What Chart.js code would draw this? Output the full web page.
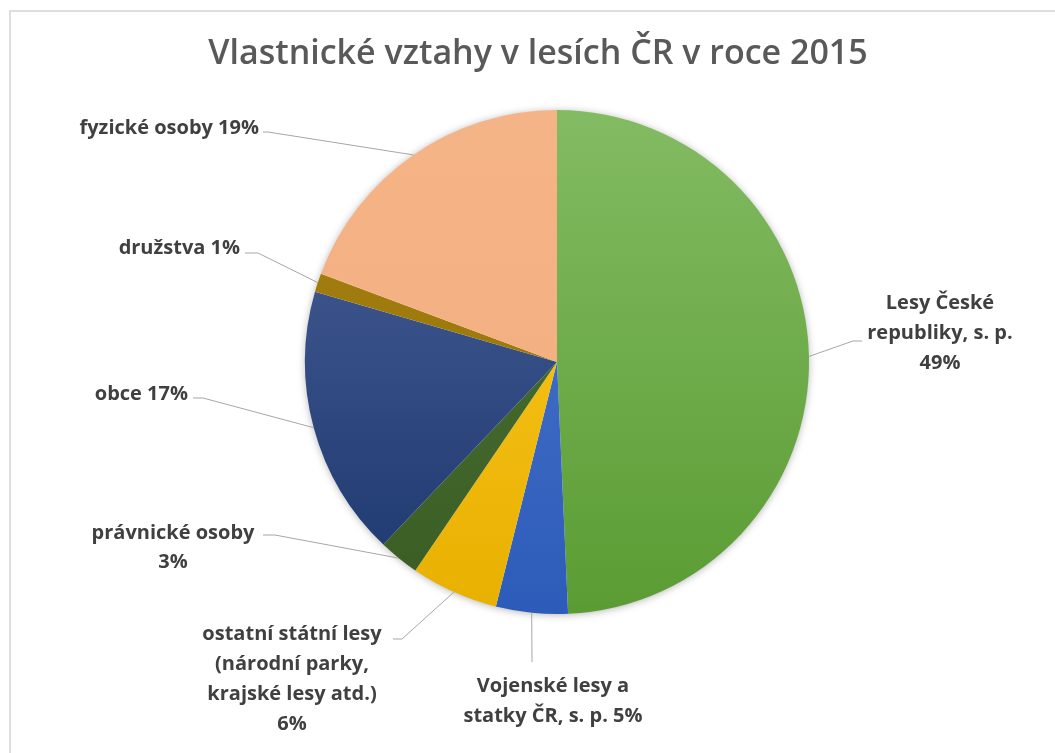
<!DOCTYPE html>
<html><head><meta charset="utf-8">
<script src="https://cdn.jsdelivr.net/npm/chart.js@4.4.1/dist/chart.umd.min.js"></script>
<style>
html,body{margin:0;padding:0;background:#fff;}
#wrap{position:relative;width:1055px;height:753px;overflow:hidden;}
#frame{position:absolute;left:9px;top:10px;right:-10px;bottom:-10px;border-left:2px solid #dedede;border-top:2px solid #dedede;}
canvas{position:absolute;left:0;top:0;}
</style></head><body>
<div id="wrap"><div id="frame"></div><canvas id="c" width="1055" height="753"></canvas></div>
<script>
const chartTitle = 'Vlastnické vztahy v lesích ČR v roce 2015';
const categories = [
  'Lesy České republiky, s. p.',
  'Vojenské lesy a statky ČR, s. p.',
  'ostatní státní lesy (národní parky, krajské lesy atd.)',
  'právnické osoby',
  'obce',
  'družstva',
  'fyzické osoby'
];
const shares = [49.3, 4.6, 5.6, 2.6, 17.4, 1.2, 19.3];
const labelLines = [
  ['Lesy České', 'republiky, s. p.', '{p}'],
  ['Vojenské lesy a', 'statky ČR, s. p. {p}'],
  ['ostatní státní lesy', '(národní parky,', 'krajské lesy atd.)', '{p}'],
  ['právnické osoby', '{p}'],
  ['obce {p}'],
  ['družstva {p}'],
  ['fyzické osoby {p}']
];

// styles (gradient top -> bottom)
const sliceGradients = [
  ['#83bb62', '#5a9c33'],
  ['#4b7acd', '#2d5bb9'],
  ['#ffca26', '#e8b000'],
  ['#4d7534', '#3a5c24'],
  ['#4c6299', '#1b376e'],
  ['#a7820f', '#93700a'],
  ['#f5b487', '#f2ac7c']
];
const labelLayout = [
  {path: [[853,341],[862,341]], x: 940, y: 303, align: 'center', lh: 30},
  {path: [[532,662]], x: 553, y: 686, align: 'center', lh: 30},
  {path: [[402,639],[393,639]], x: 292, y: 634, align: 'center', lh: 30},
  {path: [[275,535],[263,535]], x: 173, y: 533, align: 'center', lh: 29},
  {path: [[203,398],[193,398]], x: 188, y: 394, align: 'right', lh: 30},
  {path: [[258,253],[245,253]], x: 240, y: 248, align: 'right', lh: 30},
  {path: [[268,132],[263,132]], x: 259, y: 128, align: 'right', lh: 30}
];

const total = shares.reduce((a, b) => a + b, 0);

const shadowPlugin = {
  id: 'pieShadow',
  beforeDatasetsDraw(chart) {
    const el = chart.getDatasetMeta(0).data[0];
    if (!el) return;
    const p = el.getProps(['x', 'y', 'outerRadius'], true);
    const ctx = chart.ctx;
    ctx.save();
    ctx.shadowColor = 'rgba(0,0,0,0.35)';
    ctx.shadowBlur = 9;
    ctx.shadowOffsetY = 1;
    ctx.beginPath();
    ctx.arc(p.x, p.y, p.outerRadius - 1, 0, Math.PI * 2);
    ctx.fillStyle = '#ffffff';
    ctx.fill();
    ctx.restore();
  }
};

const titlePlugin = {
  id: 'customTitle',
  afterDraw(chart) {
    const ctx = chart.ctx;
    ctx.save();
    ctx.font = '600 34px "Open Sans"';
    ctx.fillStyle = '#595959';
    ctx.textAlign = 'center';
    ctx.textBaseline = 'middle';
    ctx.fillText(chartTitle, 538, 54);
    ctx.restore();
  }
};

const labelPlugin = {
  id: 'outLabels',
  afterDatasetsDraw(chart) {
    const ctx = chart.ctx;
    const meta = chart.getDatasetMeta(0);
    meta.data.forEach((el, i) => {
      const p = el.getProps(['x', 'y', 'startAngle', 'endAngle', 'outerRadius'], true);
      const mid = (p.startAngle + p.endAngle) / 2;
      const ex = p.x + Math.cos(mid) * p.outerRadius;
      const ey = p.y + Math.sin(mid) * p.outerRadius;
      const lay = labelLayout[i];
      ctx.save();
      ctx.strokeStyle = '#a6a6a6';
      ctx.lineWidth = 1;
      ctx.beginPath();
      ctx.moveTo(ex, ey);
      lay.path.forEach(pt => ctx.lineTo(pt[0], pt[1]));
      ctx.stroke();
      const pct = Math.round(shares[i] / total * 100) + '%';
      ctx.font = '700 20px "Open Sans"';
      ctx.fillStyle = '#404040';
      ctx.textAlign = lay.align;
      ctx.textBaseline = 'middle';
      labelLines[i].forEach((line, k) => {
        ctx.fillText(line.replace('{p}', pct), lay.x, lay.y + k * lay.lh);
      });
      ctx.restore();
    });
  }
};

new Chart(document.getElementById('c'), {
  type: 'pie',
  data: {
    labels: categories,
    datasets: [{
      data: shares,
      borderWidth: 0,
      backgroundColor: (c) => {
        const g = sliceGradients[c.dataIndex];
        const area = c.chart.chartArea;
        if (!area) return g[0];
        const grad = c.chart.ctx.createLinearGradient(0, area.top, 0, area.bottom);
        grad.addColorStop(0, g[0]);
        grad.addColorStop(1, g[1]);
        return grad;
      }
    }]
  },
  options: {
    responsive: false,
    animation: false,
    layout: {padding: {left: 305, right: 246, top: 110, bottom: 139}},
    plugins: {legend: {display: false}, tooltip: {enabled: false}, title: {display: false}}
  },
  plugins: [shadowPlugin, labelPlugin, titlePlugin]
});
</script>
</body></html>
